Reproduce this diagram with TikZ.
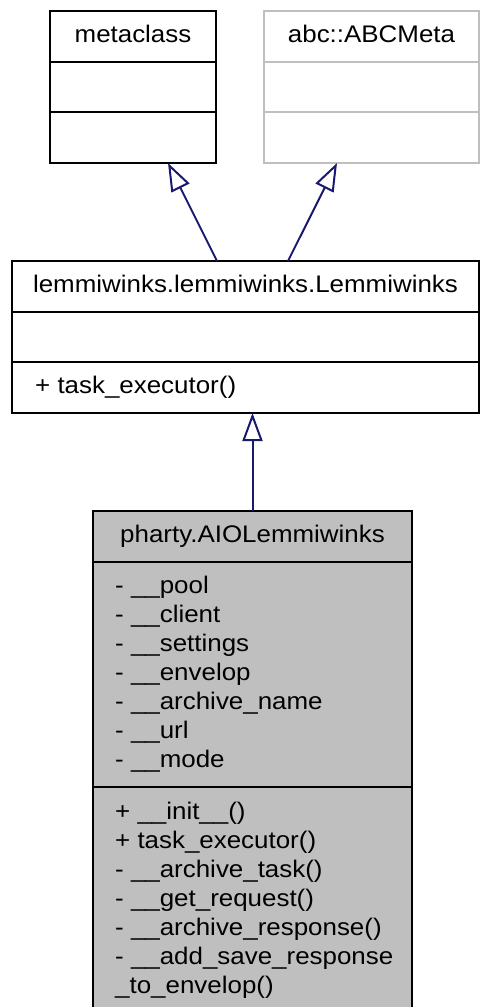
\documentclass[tikz,border=0pt]{standalone}
\usepackage{fontspec}
\setmainfont{Liberation Sans}[FakeStretch=1.08]
\usetikzlibrary{arrows.meta,calc,positioning}
\definecolor{edgeblue}{HTML}{191970}
\definecolor{boxgray}{HTML}{BFBFBF}

\begin{document}
\begin{tikzpicture}[
    x=1pt,y=-1pt,
    font=\fontsize{24}{29}\selectfont,
    part/.style={draw,line width=2pt,inner sep=0pt,outer sep=0pt,
      minimum height=50.67pt,text height=17pt,text depth=5pt},
    faded/.style={draw=boxgray},
    members/.style={align=left,anchor=west,inner sep=0pt},
    inherit/.style={-{Triangle[open,length=28pt,width=20pt]},line width=2pt,
      edgeblue}
  ]
    \useasboundingbox (0,0) rectangle (481,1007);

    % base classes
    \node[part,minimum width=166pt,anchor=north west] (meta) at (50,11) {metaclass};
    \node[part,minimum width=166pt,below=0pt of meta] (meta-attr) {};
    \node[part,minimum width=166pt,below=0pt of meta-attr] (meta-ops) {};

    \node[part,faded,minimum width=215pt,right=48pt of meta] (abc) {abc::ABCMeta};
    \node[part,faded,minimum width=215pt,below=0pt of abc] (abc-attr) {};
    \node[part,faded,minimum width=215pt,below=0pt of abc-attr] (abc-ops) {};

    % Lemmiwinks
    \node[part,minimum width=467pt,anchor=north west] (lem) at (12,261)
      {lemmiwinks.lemmiwinks.Lemmiwinks};
    \node[part,minimum width=467pt,below=0pt of lem] (lem-attr) {};
    \node[part,minimum width=467pt,below=0pt of lem-attr] (lem-ops) {};
    \node[members] (lem-ops-text) at ([xshift=23pt]lem-ops.west)
      {+ task\_executor()};

    % AIOLemmiwinks
    \node[part,fill=boxgray,minimum width=319pt,anchor=north west] (aio) at (93,511)
      {pharty.AIOLemmiwinks};
    \node[part,fill=boxgray,minimum width=319pt,minimum height=225pt,
      below=0pt of aio] (aio-attr) {};
    \node[part,fill=boxgray,minimum width=319pt,minimum height=225pt,
      below=0pt of aio-attr] (aio-ops) {};
    \node[members] (aio-attr-text) at ([xshift=22pt]aio-attr.west)
      {- \_\_pool\\- \_\_client\\- \_\_settings\\- \_\_envelop\\
       - \_\_archive\_name\\- \_\_url\\- \_\_mode};
    \node[members] (aio-ops-text) at ([xshift=22pt,yshift=-1.5pt]aio-ops.west)
      {+ \_\_init\_\_()\\+ task\_executor()\\- \_\_archive\_task()\\
       - \_\_get\_request()\\- \_\_archive\_response()\\
       - \_\_add\_save\_response\\\_to\_envelop()};

    % inheritance
    \draw[inherit] ([xshift=-28.5pt]lem.north) -- ([xshift=35pt]meta-ops.south);
    \draw[inherit] ([xshift=42.5pt]lem.north) -- ([xshift=-34.5pt]abc-ops.south);
    \draw[inherit] (aio.north) -- (aio.north |- lem-ops.south);
\end{tikzpicture}
\end{document}
